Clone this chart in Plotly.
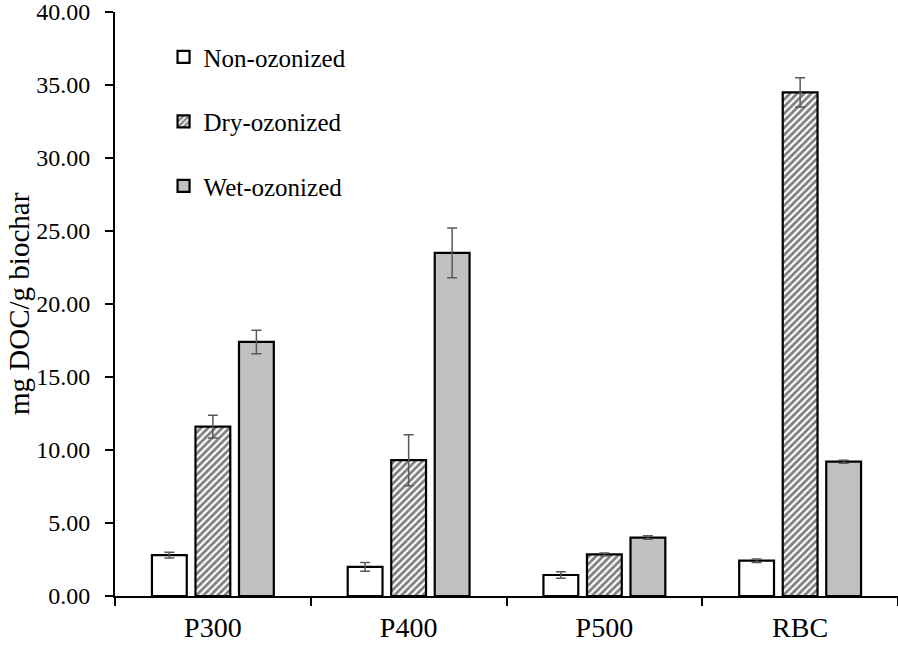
import plotly.graph_objects as go

categories = ["P300", "P400", "P500", "RBC"]
series_names = ["Non-ozonized", "Dry-ozonized", "Wet-ozonized"]
non_ozonized = [2.80, 2.00, 1.44, 2.42]
non_ozonized_err = [0.20, 0.30, 0.22, 0.12]
dry_ozonized = [11.60, 9.30, 2.85, 34.50]
dry_ozonized_err = [0.78, 1.75, 0.10, 1.00]
wet_ozonized = [17.40, 23.50, 4.00, 9.20]
wet_ozonized_err = [0.80, 1.70, 0.12, 0.10]
y_ticks = [0, 5, 10, 15, 20, 25, 30, 35, 40]
y_title = "mg DOC/g biochar"

FONT = "Liberation Serif"
err_style = dict(type="data", color="#595959", thickness=1.5, width=5, visible=True)

fig = go.Figure()
fig.add_trace(go.Bar(
    x=categories, y=non_ozonized, name=series_names[0], legendgroup="a",
    marker=dict(color="white", line=dict(color="black", width=2.2)),
    error_y=dict(array=non_ozonized_err, **err_style),
))
fig.add_trace(go.Bar(
    x=categories, y=dry_ozonized, name=series_names[1], legendgroup="b",
    marker=dict(color="white", line=dict(color="black", width=2.2),
                pattern=dict(shape="/", fgcolor="black", bgcolor="white", size=5, solidity=0.55)),
    error_y=dict(array=dry_ozonized_err, **err_style),
))
fig.add_trace(go.Bar(
    x=categories, y=wet_ozonized, name=series_names[2], legendgroup="c",
    marker=dict(color="#c0c0c0", line=dict(color="black", width=2.2)),
    error_y=dict(array=wet_ozonized_err, **err_style),
))

fig.add_annotation(
    text=y_title, xref="paper", yref="paper", x=0, y=0.5,
    xanchor="center", yanchor="middle", xshift=-96, textangle=-90,
    showarrow=False, font=dict(family=FONT, size=29, color="black"),
)

fig.update_layout(
    width=898, height=649,
    margin=dict(l=115, r=0, t=12, b=53, autoexpand=False),
    paper_bgcolor="white", plot_bgcolor="white",
    font=dict(family=FONT, color="black", size=20),
    barmode="group", bargap=0.333, bargroupgap=0.2,
    showlegend=True,
    legend=dict(x=0.062, y=0.962, xanchor="left", yanchor="top",
                font=dict(family=FONT, size=25, color="black"),
                bgcolor="rgba(0,0,0,0)", tracegroupgap=29, itemwidth=30,
                traceorder="grouped"),
    xaxis=dict(
        showline=True, linecolor="black", linewidth=2, automargin=False,
        ticks="outside", tickson="boundaries", ticklen=8, tickwidth=2, tickcolor="black",
        tickfont=dict(family=FONT, size=28), showgrid=False, zeroline=False,
        ticklabelstandoff=5,
    ),
    yaxis=dict(
        range=[0, 40], tickvals=y_ticks, tickformat=".2f", automargin=False,
        showline=True, linecolor="black", linewidth=2,
        ticks="outside", ticklen=8, tickwidth=2, tickcolor="black",
        tickfont=dict(family=FONT, size=24), showgrid=False, zeroline=False,
        ticklabelstandoff=10, ticklabeloverflow="allow",
    ),
)

fig.write_html(
    "out.html",
    config={"displayModeBar": False},
    post_script="document.body.style.margin='0';document.body.style.overflow='hidden';",
)
